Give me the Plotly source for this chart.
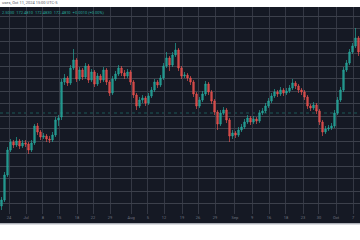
import plotly.graph_objects as go

# ---- data (prices) ----
opens = [159.4, 160.0, 162.5, 165.0, 165.8, 165.5, 165.9, 165.4, 165.7, 165.6,
         165.0, 165.7, 167.4, 166.8, 166.3, 166.4, 166.1, 166.0, 166.5, 168.0,
         168.3, 171.8, 172.2, 171.7, 173.2, 174.0, 172.1, 173.0, 172.3, 173.4,
         172.0, 172.8, 171.6, 172.4, 172.0, 173.0, 171.8, 170.7, 172.1, 172.6,
         173.2, 172.7, 172.4, 172.8, 171.8, 170.5, 169.4, 170.0, 170.2, 169.7,
         170.4, 171.0, 171.8, 171.5, 172.2, 173.4, 174.2, 173.5, 174.5, 175.0,
         173.2, 172.4, 172.5, 172.2, 171.8, 170.6, 169.4, 170.0, 170.6, 171.6,
         170.8, 169.9, 168.8, 167.6, 168.7, 169.0, 168.0, 166.4, 166.7, 166.5,
         167.0, 167.3, 167.8, 168.2, 167.8, 168.1, 167.9, 168.7, 168.9, 169.4,
         169.9, 170.4, 170.8, 170.6, 171.0, 170.7, 170.9, 171.2, 171.7, 171.4,
         171.0, 170.8, 170.3, 169.4, 169.2, 169.5, 168.9, 167.8, 166.8, 167.1,
         167.2, 167.4, 168.7, 170.0, 171.0, 173.0, 173.7, 174.8, 175.4, 176.2]
closes = [160.0, 162.5, 165.0, 165.8, 165.5, 165.9, 165.4, 165.7, 165.6, 165.0,
          165.7, 167.4, 166.8, 166.3, 166.4, 166.1, 166.0, 166.5, 168.0, 168.2,
          171.8, 172.2, 171.7, 173.2, 174.0, 172.1, 173.0, 172.3, 173.4, 172.0,
          172.8, 171.6, 172.4, 172.0, 173.0, 171.8, 170.7, 172.1, 172.6, 173.2,
          172.7, 172.4, 172.8, 171.8, 170.5, 169.4, 170.0, 170.2, 169.7, 170.4,
          171.0, 171.8, 171.5, 172.2, 173.4, 174.2, 173.5, 174.5, 175.0, 173.2,
          172.4, 172.5, 172.2, 171.8, 170.6, 169.4, 170.0, 170.6, 171.6, 170.8,
          169.9, 168.8, 167.6, 168.7, 169.0, 168.0, 166.4, 166.7, 166.5, 167.0,
          167.3, 167.8, 168.2, 167.8, 168.1, 167.9, 168.7, 168.9, 169.4, 169.9,
          170.4, 170.8, 170.6, 171.0, 170.7, 170.9, 171.2, 171.7, 171.4, 171.0,
          170.8, 170.3, 169.4, 169.2, 169.5, 168.9, 167.8, 166.8, 167.1, 167.2,
          167.4, 168.7, 170.0, 171.0, 173.0, 173.7, 174.8, 175.4, 176.2, 174.8]
highs = [160.3, 162.8, 165.3, 166.1, 166.0, 166.3, 166.1, 166.0, 166.0, 165.8,
         166.0, 167.6, 167.7, 167.0, 166.7, 166.6, 166.4, 166.8, 168.3, 168.5,
         172.1, 172.6, 172.4, 173.5, 175.1, 174.2, 173.3, 173.2, 173.7, 173.6,
         173.1, 173.0, 172.7, 172.6, 173.3, 173.2, 172.0, 172.4, 172.9, 173.5,
         173.4, 173.0, 173.1, 173.0, 172.0, 170.7, 170.3, 170.5, 170.4, 170.7,
         171.3, 172.1, 172.0, 172.5, 173.7, 174.8, 174.4, 174.8, 175.7, 175.2,
         173.4, 172.8, 172.7, 172.4, 172.0, 170.8, 170.3, 170.9, 171.9, 171.8,
         171.0, 170.1, 169.0, 169.0, 169.3, 169.2, 168.2, 167.0, 166.9, 167.3,
         167.6, 168.1, 168.5, 168.4, 168.4, 168.3, 169.0, 169.2, 169.7, 170.2,
         170.7, 171.1, 171.0, 171.3, 171.2, 171.2, 171.5, 172.1, 171.9, 171.6,
         171.2, 171.0, 170.5, 169.6, 169.8, 169.7, 169.1, 168.0, 167.4, 167.5,
         167.7, 169.0, 170.3, 171.3, 173.3, 174.0, 175.1, 175.7, 177.2, 176.4]
lows = [159.0, 159.8, 162.3, 164.8, 165.2, 165.3, 165.1, 165.2, 165.3, 164.6,
        164.8, 165.5, 166.5, 166.0, 166.1, 165.8, 165.7, 165.8, 166.3, 167.4,
        168.0, 171.5, 171.4, 171.5, 173.0, 171.8, 171.9, 172.0, 172.1, 171.7,
        171.8, 171.3, 171.4, 171.7, 171.8, 171.5, 170.4, 170.5, 171.9, 172.4,
        172.4, 172.1, 172.2, 171.5, 170.2, 169.0, 169.2, 169.7, 169.4, 169.5,
        170.2, 170.8, 171.2, 171.3, 172.0, 173.2, 172.9, 173.3, 174.3, 172.9,
        172.1, 172.2, 171.9, 171.5, 170.3, 169.1, 169.2, 169.8, 170.4, 170.5,
        169.6, 168.5, 167.0, 167.4, 168.5, 167.7, 165.8, 166.1, 166.2, 166.3,
        166.8, 167.1, 167.6, 167.5, 167.6, 167.6, 167.7, 168.5, 168.7, 169.2,
        169.7, 170.2, 170.3, 170.4, 170.4, 170.5, 170.7, 171.0, 171.1, 170.7,
        170.5, 170.0, 169.1, 168.9, 169.0, 168.6, 167.5, 166.4, 166.6, 166.9,
        167.0, 167.2, 168.5, 169.8, 170.8, 172.8, 173.5, 174.6, 175.2, 174.4]

tick_labels = ["24", "Jul", "8", "15", "18", "22", "29", "Aug", "5", "12", "19",
               "26", "29", "Sep", "9", "16", "18", "23", "30", "Oct", "7"]
tick_bars = [2.5, 8.2, 13.8, 19.2, 25.2, 30.5, 36.2, 43.2, 48.8, 54.2, 60.2,
             65.5, 71.2, 77.8, 83.5, 89.2, 94.8, 100.5, 105.8, 111.5, 117.2]
last_price_line = 168.7
title_text = "uses, Oct 11, 2024 15:00 UTC-5"
ohlc_text = "2.5030  172.4810  172.4830  172.4810  +0.0010 (+0.00%)"

bars = list(range(len(closes)))

BG = "#151924"
UP = "rgba(38,166,154,0.85)"
DOWN = "rgba(239,83,80,0.8)"
fig = go.Figure(go.Candlestick(
    x=bars, open=opens, high=highs, low=lows, close=closes,
    increasing=dict(line=dict(color=UP, width=0.8), fillcolor=UP),
    decreasing=dict(line=dict(color=DOWN, width=0.8), fillcolor=DOWN),
    whiskerwidth=0, hoverinfo="skip",
))

band_h = 9.5 / 207
fig.update_layout(
    width=360, height=240,
    margin=dict(l=0, r=0, t=7, b=26),
    paper_bgcolor="white", plot_bgcolor=BG,
    showlegend=False,
    xaxis=dict(range=[-0.5, len(bars) - 0.5], rangeslider=dict(visible=False),
               tickmode="array", tickvals=tick_bars, ticktext=tick_labels,
               showgrid=True, gridcolor="#343844", gridwidth=1, zeroline=False,
               ticks="", tickfont=dict(size=4, color="#6f7380", family="Roboto"),
               showline=False, fixedrange=True),
    yaxis=dict(range=[158.6, 179.3], tick0=178.4, dtick=1.25,
               showticklabels=False, showgrid=True, gridcolor="#3c404b",
               gridwidth=1, zeroline=False, fixedrange=True),
    shapes=[
        dict(type="rect", xref="paper", yref="paper", x0=0, x1=1,
             y0=-band_h, y1=0, fillcolor=BG, line=dict(width=0), layer="below"),
        dict(type="line", xref="paper", yref="paper", x0=0, x1=1,
             y0=-band_h - 0.002, y1=-band_h - 0.002,
             line=dict(color="#b8bbc4", width=1.2)),
        dict(type="line", xref="paper", yref="y", x0=0, x1=1,
             y0=last_price_line, y1=last_price_line,
             line=dict(color="rgba(38,166,154,0.45)", width=1, dash="dot"),
             layer="below"),
    ],
    annotations=[
        dict(text=title_text, xref="paper", yref="paper", x=0, y=1,
             xanchor="left", yanchor="bottom", yshift=0, showarrow=False,
             font=dict(size=4, color="#555a66", family="Roboto")),
        dict(text=ohlc_text, xref="paper", yref="paper", x=0, y=1,
             xanchor="left", yanchor="top", yshift=-1, showarrow=False,
             font=dict(size=4, color="#26a69a", family="Roboto")),
    ],
)

fig.write_html("out.html", config={"displayModeBar": False})
